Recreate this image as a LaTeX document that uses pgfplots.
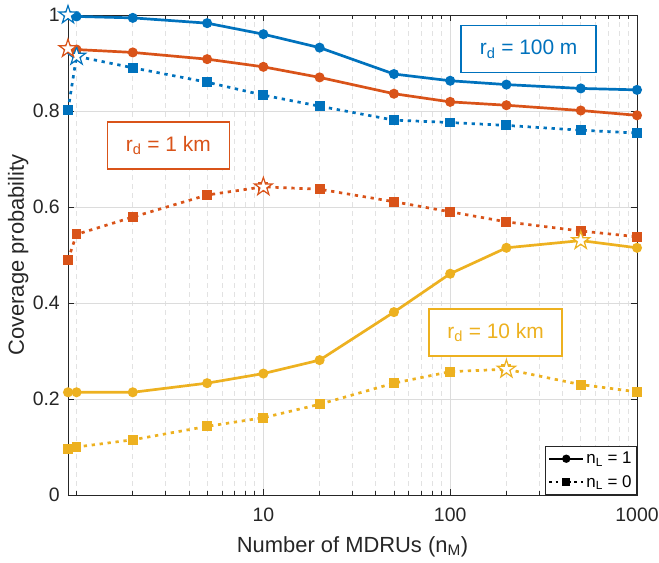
\documentclass[border=0pt]{standalone}
\usepackage{fontspec}
\setmainfont{Liberation Sans}
\usepackage{pgfplots}
\pgfplotsset{compat=1.18}
\usetikzlibrary{plotmarks}
\definecolor{mblue}{HTML}{0072BD}
\definecolor{morange}{HTML}{D95319}
\definecolor{myellow}{HTML}{EDB120}
\definecolor{axgray}{HTML}{262626}
\definecolor{gridmaj}{HTML}{DCDCDC}
\definecolor{gridmin}{HTML}{E2E2E2}

% open five-pointed star
\pgfdeclareplotmark{pentagram}{%
  \pgfpathmoveto{\pgfpointpolar{90}{\pgfplotmarksize}}%
  \pgfpathlineto{\pgfpointpolar{126}{0.382\pgfplotmarksize}}%
  \pgfpathlineto{\pgfpointpolar{162}{\pgfplotmarksize}}%
  \pgfpathlineto{\pgfpointpolar{198}{0.382\pgfplotmarksize}}%
  \pgfpathlineto{\pgfpointpolar{234}{\pgfplotmarksize}}%
  \pgfpathlineto{\pgfpointpolar{270}{0.382\pgfplotmarksize}}%
  \pgfpathlineto{\pgfpointpolar{306}{\pgfplotmarksize}}%
  \pgfpathlineto{\pgfpointpolar{342}{0.382\pgfplotmarksize}}%
  \pgfpathlineto{\pgfpointpolar{18}{\pgfplotmarksize}}%
  \pgfpathlineto{\pgfpointpolar{54}{0.382\pgfplotmarksize}}%
  \pgfpathclose
  \pgfusepathqfillstroke
}

\pgfplotsset{
  solidline/.style={#1, line width=2.7bp, mark=*, mark size=3.6bp},
  dotline/.style={#1, line width=2.7bp, dash pattern=on 3.3bp off 4.7bp,
    mark=square*, mark size=3.6bp, mark options={solid}},
  starmark/.style={only marks, mark=pentagram, mark size=9.5bp,
    mark options={draw=#1, fill=white, line width=1.2bp, solid}},
}
\tikzset{
  rdbox/.style={draw=#1, text=#1, fill=white, line width=1.4bp, inner sep=0pt,
    minimum height=47bp, font=\fontsize{21}{21}\selectfont},
}

\begin{document}
\begin{tikzpicture}
\useasboundingbox (-68bp,-68bp) rectangle (591bp,495bp);
\begin{axis}[
  at={(0,0)}, anchor=south west,
  scale only axis, width=569bp, height=480bp,
  xmode=log, xmin=0.9, xmax=1000, ymin=0, ymax=1,
  clip=false,
  xtick={10,100,1000}, xticklabels={10,100,1000},
  minor xtick={1,2,3,4,5,6,7,8,9,20,30,40,50,60,70,80,90,200,300,400,500,600,700,800,900},
  ytick={0,0.2,0.4,0.6,0.8,1},
  xmajorgrids, ymajorgrids, xminorgrids,
  major grid style={gridmaj, line width=0.8bp},
  minor grid style={gridmin, line width=0.8bp, dash pattern=on 5bp off 4bp},
  axis line style={axgray, line width=0.9bp},
  every tick/.style={axgray, line width=0.8bp},
  major tick length=6bp, minor tick length=4bp,
  tick align=inside,
  /pgf/number format/assume math mode=true,
  ticklabel style={font=\fontsize{19.5}{19.5}\selectfont, text=axgray},
  xticklabel style={inner sep=0pt, anchor=north, yshift=-13bp},
  yticklabel style={inner sep=0pt, anchor=east, xshift=-8bp},
  xlabel={Number of MDRUs (n\textsubscript{M})},
  ylabel={Coverage probability},
  label style={font=\fontsize{22}{22}\selectfont, text=axgray},
  xlabel style={at={(rel axis cs:0.5,0)}, anchor=base, yshift=-57bp},
  ylabel style={at={(rel axis cs:0,0.5)}, anchor=base, yshift=44bp},
  legend style={at={(rel axis cs:1,0)}, anchor=south east, draw=axgray,
    line width=0.8bp, fill=white, font=\fontsize{17}{17}\selectfont,
    inner xsep=3bp, inner ysep=4bp, row sep=6bp},
  legend cell align=left,
  legend image code/.code={\draw[mark repeat=2, mark phase=2, #1]
    plot coordinates {(0bp,0bp) (17bp,0bp) (34bp,0bp)};},
]
\addlegendimage{black, line width=2.2bp, mark=*, mark size=3bp}
\addlegendimage{black, line width=2.2bp, dash pattern=on 2.8bp off 3.5bp,
  mark=square*, mark size=3bp, mark options={solid}}

% r_d = 100 m
\addplot[solidline=mblue, forget plot] coordinates {
  (0.9,1.000) (1,0.997) (2,0.994) (5,0.983) (10,0.960) (20,0.932)
  (50,0.877) (100,0.863) (200,0.855) (500,0.847) (1000,0.844)};
\addplot[dotline=mblue, forget plot] coordinates {
  (0.9,0.802) (1,0.914) (2,0.890) (5,0.860) (10,0.833) (20,0.810)
  (50,0.781) (100,0.776) (200,0.770) (500,0.760) (1000,0.754)};
% r_d = 1 km
\addplot[solidline=morange, forget plot] coordinates {
  (0.9,0.930) (1,0.928) (2,0.922) (5,0.908) (10,0.892) (20,0.870)
  (50,0.836) (100,0.819) (200,0.812) (500,0.801) (1000,0.791)};
\addplot[dotline=morange, forget plot] coordinates {
  (0.9,0.490) (1,0.543) (2,0.579) (5,0.625) (10,0.642) (20,0.637)
  (50,0.611) (100,0.590) (200,0.569) (500,0.550) (1000,0.538)};
% r_d = 10 km
\addplot[solidline=myellow, forget plot] coordinates {
  (0.9,0.214) (1,0.214) (2,0.214) (5,0.233) (10,0.253) (20,0.281)
  (50,0.381) (100,0.461) (200,0.515) (500,0.530) (1000,0.515)};
\addplot[dotline=myellow, forget plot] coordinates {
  (0.9,0.096) (1,0.100) (2,0.115) (5,0.143) (10,0.161) (20,0.189)
  (50,0.233) (100,0.257) (200,0.262) (500,0.230) (1000,0.215)};

% maxima
\addplot[starmark=mblue, forget plot] coordinates {(0.9,1.000)};
\addplot[starmark=mblue, forget plot] coordinates {(1,0.914)};
\addplot[starmark=morange, forget plot] coordinates {(0.9,0.930)};
\addplot[starmark=morange, forget plot] coordinates {(10,0.642)};
\addplot[starmark=myellow, forget plot] coordinates {(500,0.530)};
\addplot[starmark=myellow, forget plot] coordinates {(200,0.262)};

\node[rdbox=mblue, minimum width=135bp] at (axis cs:263,0.929) {r\textsubscript{d} = 100 m};
\node[rdbox=morange, minimum width=122bp] at (axis cs:3.1,0.728) {r\textsubscript{d} = 1 km};
\node[rdbox=myellow, minimum width=133bp] at (axis cs:175,0.3385) {r\textsubscript{d} = 10 km};

\legend{n\textsubscript{L} = 1, n\textsubscript{L} = 0}
\end{axis}
\end{tikzpicture}
\end{document}
